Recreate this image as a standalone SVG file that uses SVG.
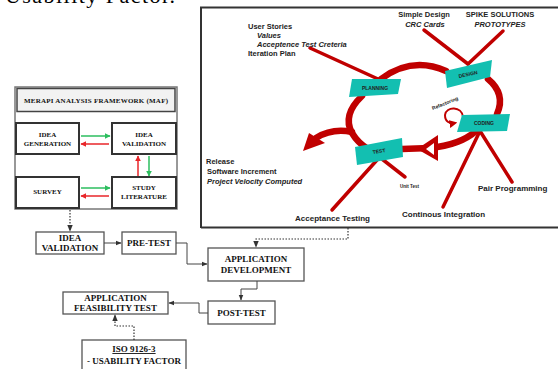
<svg xmlns="http://www.w3.org/2000/svg" width="558" height="369" viewBox="0 0 558 369">
<defs>
<style>
.serif{font-family:"Liberation Serif","Times New Roman",serif;font-weight:bold;fill:#111}
.sans{font-family:"Liberation Sans",Arial,sans-serif;font-weight:bold;fill:#222}
.it{font-style:italic}
.box{fill:#fff;stroke:#555;stroke-width:1.3}
.mbox{fill:#fff;stroke:#333;stroke-width:2}
.conn{fill:none;stroke:#444;stroke-width:1}
.dot{fill:none;stroke:#333;stroke-width:1.2;stroke-dasharray:1.5 1.5}
.red{fill:none;stroke:#C00000;stroke-width:3.5;stroke-linecap:round}
.loop{fill:none;stroke:#C00000;stroke-width:6.5;stroke-linecap:round}
.teal{fill:#13BFB1}
.g{stroke:#2DBE5F;stroke-width:1.5;fill:none}
.r{stroke:#E8262A;stroke-width:1.5;fill:none}
</style>
<marker id="ah" viewBox="0 0 10 10" refX="9" refY="5" markerWidth="6" markerHeight="6" orient="auto"><path d="M0 1 L10 5 L0 9 Z" fill="#333"/></marker>
<marker id="ag" viewBox="0 0 10 10" refX="9" refY="5" markerWidth="4" markerHeight="4" orient="auto"><path d="M0 0 L10 5 L0 10 Z" fill="#2DBE5F"/></marker>
<marker id="ar" viewBox="0 0 10 10" refX="9" refY="5" markerWidth="4" markerHeight="4" orient="auto"><path d="M0 0 L10 5 L0 10 Z" fill="#E8262A"/></marker>
<marker id="arf" viewBox="0 0 10 10" refX="7" refY="5" markerWidth="4" markerHeight="4" orient="auto"><path d="M0 0 L10 5 L0 10 Z" fill="#C00000"/></marker>
</defs>
<rect width="558" height="369" fill="#fff"/>
<text x="5" y="3" font-family="Liberation Serif, serif" font-size="22" textLength="170" fill="#000">Usability Factor.</text>

<g id="xp-panel">
<path d="M201 228 L201 7.5 L560 7.5 M201 227.5 L560 227.5" fill="none" stroke="#333" stroke-width="2"/>
</g>

<g id="xp-loop">
<path class="loop" d="M402 149 L430 148 Q460 145 476 131"/>
<path class="loop" d="M497 114 Q506 94 488 79"/>
<path class="loop" d="M446 71 Q412 56 381 79"/>
<path class="loop" d="M362 96 Q342 115 352 133 Q358 143 368 149"/>
<path class="loop" d="M352 132 Q332 128 316 138"/>
<polygon points="303,151 309,133 325,143" fill="#C00000"/>
<polygon points="417,149 438,135 438,161" fill="#C00000"/>
<polygon points="426,149 434,143 434,155" fill="#fff"/>
<path d="M463 117 C462 106 446 106 445 115 C445 122 450 124 455 123" fill="none" stroke="#C00000" stroke-width="2" marker-end="url(#arf)"/>
</g>

<g id="xp-lines">
<line class="red" x1="310" y1="48" x2="378" y2="79"/>
<line class="red" x1="424" y1="30" x2="468" y2="64"/>
<line class="red" x1="503" y1="31" x2="468" y2="64"/>
<line class="red" x1="480" y1="131" x2="443" y2="207"/>
<line class="red" x1="480" y1="131" x2="512" y2="182"/>
<line class="red" x1="377" y1="160" x2="332" y2="210"/>
<line class="red" x1="382" y1="159" x2="405" y2="177"/>
</g>

<g id="planning"><polygon class="teal" points="352,79 401,79 398,94 349,97"/><text class="sans" x="375" y="90" font-size="5" text-anchor="middle" fill="#000">PLANNING</text></g>
<g id="design"><polygon class="teal" points="445,71 492,60 490,77 447,88"/><text class="sans" x="468" y="76" font-size="5" text-anchor="middle" transform="rotate(-12 468 74)" fill="#000">DESIGN</text></g>
<g id="coding"><polygon class="teal" points="462,115 510,114 507,131 457,132"/><text class="sans" x="484" y="125" font-size="5" text-anchor="middle" fill="#000">CODING</text></g>
<g id="test"><polygon class="teal" points="355,147 402,138 403,157 357,165"/><text class="sans" x="379" y="153" font-size="5" text-anchor="middle" transform="rotate(-10 379 151)" fill="#000">TEST</text></g>
<text class="sans" x="445" y="105" font-size="5" text-anchor="middle" transform="rotate(-22 445 103)">Refactoring</text>

<g id="xp-labels">
<text class="sans" x="248" y="29" font-size="7.5">User Stories</text>
<text class="sans it" x="257" y="38" font-size="7.5">Values</text>
<text class="sans it" x="257" y="47" font-size="7.5">Acceptence Test Creteria</text>
<text class="sans" x="248" y="56" font-size="7.5">Iteration Plan</text>
<text class="sans" x="424" y="17" font-size="7.5" text-anchor="middle">Simple Design</text>
<text class="sans it" x="425" y="27" font-size="7.5" text-anchor="middle">CRC Cards</text>
<text class="sans" x="500" y="17" font-size="7.5" text-anchor="middle">SPIKE SOLUTIONS</text>
<text class="sans it" x="500" y="27" font-size="7.5" text-anchor="middle">PROTOTYPES</text>
<text class="sans" x="206" y="164" font-size="7.5">Release</text>
<text class="sans" x="207" y="174" font-size="7.5">Software Increment</text>
<text class="sans it" x="207" y="184" font-size="7.5">Project Velocity Computed</text>
<text class="sans" x="400" y="188" font-size="4.5">Unit Test</text>
<text class="sans" x="478" y="191" font-size="8">Pair Programming</text>
<text class="sans" x="402" y="217" font-size="8">Continous Integration</text>
<text class="sans" x="295" y="221" font-size="8">Acceptance Testing</text>
</g>

<g id="maf">
<rect x="15" y="87" width="162" height="122" fill="#fff" stroke="#777" stroke-width="1.5"/>
<rect x="17" y="88.5" width="158" height="23" fill="#f2f2f2" stroke="#444" stroke-width="1.5"/>
<text class="serif" x="96" y="103" font-size="7" text-anchor="middle" textLength="144">MERAPI ANALYSIS FRAMEWORK (MAF)</text>
</g>
<g id="idea-generation"><rect class="mbox" x="16" y="123" width="63" height="31"/><text class="serif" x="47.5" y="137" font-size="7" text-anchor="middle">IDEA</text><text class="serif" x="47.5" y="145.5" font-size="7" text-anchor="middle">GENERATION</text></g>
<g id="idea-validation-maf"><rect class="mbox" x="112" y="123" width="64" height="31"/><text class="serif" x="144" y="137" font-size="7" text-anchor="middle">IDEA</text><text class="serif" x="144" y="145.5" font-size="7" text-anchor="middle">VALIDATION</text></g>
<g id="survey"><rect class="mbox" x="16" y="177" width="63" height="31"/><text class="serif" x="47.5" y="194" font-size="7" text-anchor="middle">SURVEY</text></g>
<g id="study-literature"><rect class="mbox" x="112" y="177" width="64" height="31"/><text class="serif" x="144" y="190" font-size="7" text-anchor="middle">STUDY</text><text class="serif" x="144" y="199" font-size="7" text-anchor="middle">LITERATURE</text></g>

<g id="maf-arrows">
<line class="g" x1="81" y1="136" x2="110" y2="136" marker-end="url(#ag)"/>
<line class="r" x1="109" y1="144" x2="81" y2="144" marker-end="url(#ar)"/>
<line class="r" x1="138" y1="176" x2="138" y2="156" marker-end="url(#ar)"/>
<line class="g" x1="149" y1="156" x2="149" y2="176" marker-end="url(#ag)"/>
<line class="g" x1="81" y1="188" x2="110" y2="188" marker-end="url(#ag)"/>
<line class="r" x1="109" y1="196" x2="81" y2="196" marker-end="url(#ar)"/>
</g>

<g id="idea-validation"><rect class="box" x="36" y="232" width="68" height="22"/><text class="serif" x="70" y="241" font-size="9" text-anchor="middle">IDEA</text><text class="serif" x="70" y="251" font-size="9" text-anchor="middle">VALIDATION</text></g>
<g id="pre-test"><rect class="box" x="122" y="232" width="54" height="22"/><text class="serif" x="149" y="246" font-size="9" text-anchor="middle">PRE-TEST</text></g>
<g id="application-development"><rect class="box" x="208" y="248" width="96" height="33"/><text class="serif" x="256" y="262" font-size="9" text-anchor="middle">APPLICATION</text><text class="serif" x="256" y="273" font-size="9" text-anchor="middle">DEVELOPMENT</text></g>
<g id="post-test"><rect class="box" x="208" y="301" width="67" height="23"/><text class="serif" x="241.5" y="316" font-size="9" text-anchor="middle">POST-TEST</text></g>
<g id="application-feasibility-test"><rect class="box" x="63" y="292" width="105" height="22"/><text class="serif" x="115.5" y="300.5" font-size="9" text-anchor="middle">APPLICATION</text><text class="serif" x="115.5" y="311" font-size="9" text-anchor="middle">FEASIBILITY TEST</text></g>
<g id="iso"><rect class="box" x="82" y="340" width="104" height="40"/><text class="serif" x="134" y="352" font-size="9" text-anchor="middle" text-decoration="underline">ISO 9126-3</text><text class="serif" x="134" y="364" font-size="9" text-anchor="middle">- USABILITY FACTOR</text></g>

<g id="connectors">
<path class="dot" d="M70 210 L70 231" marker-end="url(#ah)"/>
<path class="conn" d="M104 243 L121 243" marker-end="url(#ah)"/>
<path class="conn" d="M176 243 L187 243 L187 264 L207 264" marker-end="url(#ah)"/>
<path class="dot" d="M348 228 L348 239 L256 239 L256 247" marker-end="url(#ah)"/>
<path class="conn" d="M257 281 L257 289 L241 289 L241 300" marker-end="url(#ah)"/>
<path class="conn" d="M208 313 L199 313 L199 303 L169 303" marker-end="url(#ah)"/>
<path class="dot" d="M134 340 L134 326 L115 326 L115 315" marker-end="url(#ah)"/>
</g>
</svg>
